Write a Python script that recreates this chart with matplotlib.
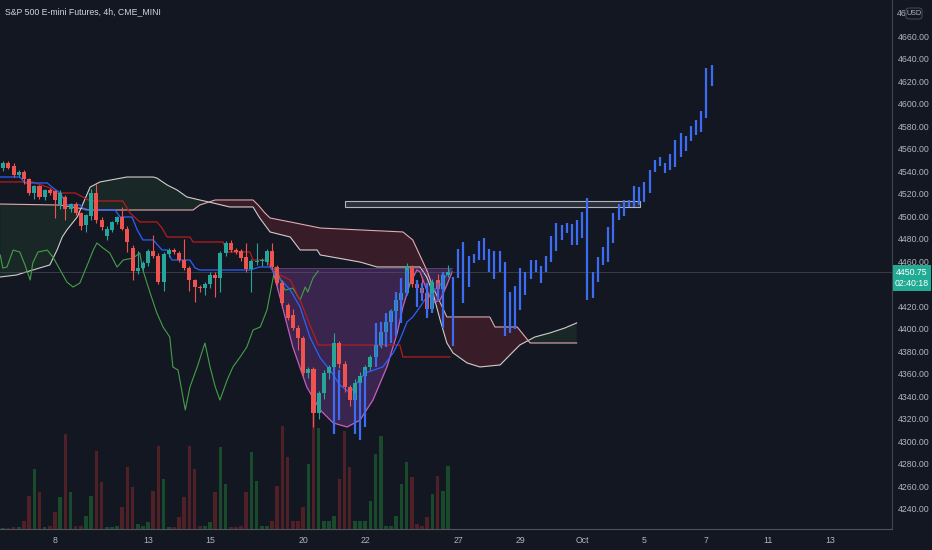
import numpy as np
import matplotlib
matplotlib.use('Agg')
import matplotlib.pyplot as plt
from matplotlib.patches import Rectangle, FancyBboxPatch

# ---- data ----
# 4h candles, index = bar number
opens  = [4543, 4547, 4545, 4537, 4539, 4533, 4521, 4527, 4517, 4523, 4522, 4510, 4517, 4506, 4511, 4503, 4492, 4500, 4521, 4497,
          4482, 4488, 4495, 4499, 4489, 4472, 4451, 4454, 4458, 4469, 4465, 4442, 4466, 4470, 4467, 4461, 4454, 4443, 4437, 4436,
          4440, 4448, 4445, 4467, 4476, 4470, 4469, 4464, 4453, 4459, 4460, 4459, 4469, 4455, 4441, 4421, 4412, 4401, 4392, 4361,
          4364, 4325, 4343, 4361, 4366, 4387, 4369, 4348, 4337, 4352, 4358, 4366, 4375, 4386, 4397, 4406, 4416, 4426, 4432, 4455,
          4440, 4436, 4432, 4418, 4443, 4435, 4448]
highs  = [4549, 4549, 4547, 4541, 4541, 4534, 4528, 4528, 4524, 4525, 4523, 4523, 4519, 4512, 4513, 4504, 4502, 4524, 4529, 4499,
          4491, 4496, 4500, 4508, 4491, 4474, 4469, 4460, 4471, 4483, 4467, 4468, 4472, 4472, 4469, 4480, 4456, 4444, 4439, 4442,
          4450, 4450, 4469, 4478, 4479, 4472, 4471, 4476, 4462, 4476, 4463, 4471, 4476, 4457, 4443, 4423, 4418, 4403, 4394, 4366,
          4366, 4345, 4363, 4368, 4396, 4389, 4371, 4350, 4355, 4362, 4368, 4377, 4389, 4399, 4408, 4418, 4429, 4436, 4458, 4457,
          4443, 4446, 4434, 4444, 4449, 4450, 4457]
lows   = [4540, 4542, 4535, 4535, 4529, 4519, 4515, 4515, 4514, 4519, 4498, 4506, 4497, 4504, 4501, 4488, 4486, 4497, 4494, 4488,
          4479, 4486, 4493, 4488, 4468, 4443, 4449, 4452, 4456, 4463, 4440, 4434, 4464, 4466, 4459, 4452, 4434, 4424, 4433, 4430,
          4436, 4428, 4433, 4465, 4468, 4466, 4460, 4450, 4433, 4457, 4456, 4457, 4453, 4439, 4420, 4408, 4399, 4381, 4358, 4356,
          4313, 4320, 4338, 4355, 4363, 4365, 4344, 4331, 4334, 4349, 4355, 4363, 4372, 4383, 4394, 4403, 4413, 4422, 4430, 4437,
          4433, 4428, 4412, 4415, 4433, 4430, 4446]
closes = [4547, 4543, 4537, 4539, 4533, 4521, 4527, 4517, 4523, 4521, 4514, 4521, 4506, 4511, 4503, 4491, 4501, 4521, 4497, 4490,
          4489, 4495, 4499, 4489, 4477, 4451, 4454, 4458, 4469, 4465, 4442, 4466, 4470, 4468, 4461, 4454, 4443, 4437, 4436, 4440,
          4448, 4445, 4467, 4476, 4470, 4468, 4463, 4453, 4460, 4460, 4461, 4469, 4455, 4441, 4423, 4410, 4401, 4392, 4361, 4364,
          4325, 4343, 4361, 4366, 4387, 4369, 4348, 4337, 4352, 4358, 4366, 4375, 4386, 4397, 4406, 4416, 4426, 4432, 4455, 4440,
          4436, 4432, 4418, 4442, 4435, 4448, 4450.75]
volumes = [4, 4, 7, 9, 33, 133, 240, 147, 7, 13, 67, 127, 380, 147, 13, 13, 53, 133, 313, 187,
           7, 7, 13, 87, 247, 167, 20, 13, 27, 153, 333, 200, 7, 7, 47, 127, 333, 240, 13, 13,
           27, 147, 327, 180, 7, 7, 13, 147, 307, 193, 13, 13, 33, 173, 412, 287, 33, 33, 87, 260,
           472, 404, 33, 33, 53, 200, 392, 247, 33, 33, 33, 113, 300, 373, 13, 13, 53, 180, 267, 207,
           20, 13, 47, 140, 213, 153, 252]

# projected "bars pattern" (blue), bar number / high / low
proj_idx = [64, 65, 68, 69, 70, 72, 73, 74, 75, 76, 77, 78, 80, 81, 82, 83, 84, 85, 87, 88,
            89, 90, 91, 92, 93, 94, 95, 96, 97, 98, 99, 100, 101, 102, 103, 104, 105, 106, 107, 108,
            109, 110, 111, 112, 113, 114, 115, 116, 117, 118, 119, 120, 121, 122, 123, 124, 125, 126, 127, 128,
            129, 130, 131, 132, 133, 134, 135, 136, 137]
proj_hi = [4366, 4363, 4343, 4353, 4363, 4405, 4406, 4414, 4417, 4433, 4445, 4452, 4443, 4441, 4441, 4432, 4441, 4450, 4446, 4471,
           4477, 4465, 4466, 4478, 4481, 4471, 4469, 4469, 4459, 4433, 4438, 4454, 4450, 4461, 4461, 4456, 4465, 4482, 4494, 4492,
           4494, 4493, 4497, 4504, 4516, 4450, 4464, 4473, 4490, 4503, 4511, 4514, 4514, 4527, 4526, 4530, 4541, 4550, 4553, 4547,
           4555, 4568, 4574, 4571, 4580, 4585, 4593, 4632, 4634]
proj_lo = [4307, 4319, 4307, 4301, 4313, 4366, 4384, 4384, 4387, 4394, 4405, 4430, 4419, 4425, 4410, 4414, 4425, 4401, 4385, 4445,
           4423, 4437, 4458, 4461, 4461, 4450, 4444, 4450, 4394, 4396, 4400, 4417, 4430, 4444, 4450, 4441, 4450, 4459, 4469, 4479,
           4485, 4474, 4474, 4481, 4426, 4427, 4442, 4457, 4459, 4476, 4497, 4500, 4508, 4508, 4510, 4513, 4521, 4539, 4545, 4538,
           4541, 4544, 4553, 4558, 4567, 4572, 4575, 4587, 4616]

# ichimoku lines (vertices: bar number, price)
tenkan_x = [-0.6, 3.2, 4.2, 8.5, 9.4, 11.0, 12.3, 14.8, 15.8, 21.6, 22.6, 24.9, 25.9, 27.0, 29.0, 30.7, 31.7, 32.6, 36.1, 37.1,
            38.0, 47.7, 49.6, 51.6, 52.6, 54.1, 55.5, 57.4, 59.3, 61.3, 63.2, 65.1, 67.1, 68.4, 70.0, 73.4, 75.4, 76.7, 78.1, 79.2,
            80.6, 81.9, 84.5, 86.4]
tenkan_y = [4534.8, 4534.8, 4529.5, 4529.5, 4525.9, 4520.6, 4510.0, 4510.0, 4505.5, 4505.5, 4499.3, 4499.3, 4487.8, 4478.9, 4478.9,
            4470.0, 4470.0, 4461.1, 4461.1, 4454.0, 4452.2, 4452.2, 4454.9, 4454.9, 4447.8, 4441.6, 4434.5, 4419.4, 4392.7, 4374.1,
            4363.4, 4350.1, 4343.0, 4351.9, 4360.8, 4366.1, 4378.5, 4390.1, 4406.1, 4410.5, 4419.4, 4428.3, 4438.9, 4452.2]
kijun_x = [-0.6, 5.7, 9.0, 10.4, 13.9, 16.8, 23.1, 24.5, 26.4, 29.7, 30.7, 31.7, 36.1, 36.7, 42.5, 43.3, 47.7, 48.3, 51.0, 51.6,
           53.5, 55.5, 57.4, 59.3, 60.9, 76.7, 77.3, 86.4]
kijun_y = [4530.4, 4530.4, 4525.1, 4520.6, 4520.6, 4513.5, 4513.5, 4502.9, 4494.9, 4494.9, 4489.5, 4481.5, 4481.5, 4477.1, 4477.1,
           4468.2, 4468.2, 4461.1, 4461.1, 4454.9, 4447.8, 4443.4, 4425.6, 4403.4, 4385.6, 4385.6, 4375.0, 4375.0]
chikou_x = [-0.6, -0.1, 0.7, 1.9, 3.2, 4.2, 5.2, 5.7, 6.7, 8.5, 9.6, 11.0, 12.3, 13.5, 14.8, 16.4, 17.4, 18.1, 19.3, 20.6,
            22.0, 23.2, 25.1, 26.4, 27.0, 28.4, 29.7, 30.9, 32.2, 32.8, 33.8, 35.2, 36.1, 37.5, 39.0, 40.0, 41.0, 41.9, 43.3, 44.4,
            45.8, 47.1, 48.3, 49.7, 51.0, 52.0, 52.6, 54.5, 56.0, 57.4, 58.4, 58.9, 59.9, 60.9]
chikou_y = [4465.5, 4454.0, 4454.8, 4469.9, 4468.2, 4456.6, 4443.3, 4458.4, 4468.2, 4469.9, 4463.7, 4452.2, 4441.5, 4437.1, 4440.6,
            4458.4, 4469.9, 4476.2, 4471.7, 4467.3, 4454.8, 4461.1, 4462.8, 4467.3, 4452.2, 4431.8, 4414.0, 4401.6, 4392.7, 4366.0,
            4363.4, 4327.9, 4348.3, 4366.0, 4387.4, 4366.0, 4348.3, 4336.7, 4354.5, 4366.0, 4374.9, 4383.8, 4398.9, 4401.6, 4416.7,
            4440.6, 4454.8, 4434.4, 4436.2, 4425.5, 4437.1, 4432.6, 4445.1, 4451.3]
spanA_x = [-0.6, 2.6, 3.8, 9.0, 10.4, 11.4, 12.3, 14.3, 16.8, 18.7, 23.9, 29.0, 29.7, 31.7, 33.6, 35.5, 38.0, 40.6, 43.8, 48.3,
           49.6, 51.6, 55.5, 57.4, 60.7, 61.3, 69.0, 72.3, 80.6, 81.9, 83.1, 84.5, 85.8, 87.0, 89.7, 92.2, 96.1, 98.0, 99.9, 102.8,
           105.7, 108.6, 110.9]
spanA_y = [4446.0, 4447.8, 4449.6, 4456.7, 4470.0, 4481.5, 4487.8, 4499.3, 4525.9, 4530.4, 4534.8, 4534.8, 4533.9, 4527.7, 4523.3,
           4517.1, 4514.4, 4511.7, 4508.2, 4508.2, 4498.4, 4486.0, 4481.5, 4470.0, 4470.0, 4465.6, 4459.3, 4454.9, 4454.9, 4446.0,
           4431.8, 4407.8, 4387.4, 4378.5, 4369.7, 4366.1, 4367.9, 4376.8, 4385.6, 4392.7, 4396.3, 4400.7, 4405.2]
spanB_x = [-0.6, 11.0, 16.8, 36.7, 38.0, 41.0, 48.3, 49.3, 50.6, 51.6, 55.5, 61.3, 69.0, 77.3, 79.2, 81.9, 83.1, 85.8, 94.1, 95.1,
           99.4, 101.9, 110.9]
spanB_y = [4510.8, 4509.9, 4505.5, 4505.5, 4509.9, 4514.4, 4514.4, 4509.9, 4502.9, 4498.4, 4494.9, 4489.5, 4487.8, 4486.0, 4478.9,
           4452.2, 4437.1, 4410.5, 4410.5, 4401.6, 4401.6, 4387.4, 4387.4]

# cup & handle drawing
cup_x = [52.0, 53.5, 56.0, 58.7, 61.3, 63.8, 66.5, 69.0, 71.5, 74.2, 76.2, 77.3, 78.7, 80.0, 80.6, 81.9, 83.1, 84.5, 85.8, 86.8]
cup_y = [4454.0, 4428.3, 4383.9, 4348.3, 4327.9, 4316.4, 4312.8, 4319.0, 4336.8, 4366.1, 4396.3, 4419.4, 4440.7, 4452.2,
         4450.5, 4434.5, 4422.9, 4425.6, 4438.9, 4450.5]
cup_top = 4454.0

# resistance box
box_x = [66.1, 123.2]
box_y = [4508.1, 4513.5]

last_price = 4450.75
countdown = '02:40:18'
price_ticks = list(range(4240, 4680, 20))
date_pos = [10, 28, 40, 58, 70, 88, 100, 112, 124, 136, 148, 160]
date_lab = ['8', '13', '15', '20', '22', '27', '29', 'Oct', '5', '7', '11', '13']
title = 'S&P 500 E-mini Futures, 4h, CME_MINI'

# ---- style ----
BG = '#131722'
UP, DN = '#26a69a', '#ef5350'
TXT = '#b2b5be'
LINE = '#434651'
plt.rcParams['font.family'] = ['Liberation Sans', 'DejaVu Sans']
FS = 6.3

W, H = 932, 550
rect = [0, 21 / H, 892 / W, 529 / H]
fig = plt.figure(figsize=(W / 100, H / 100), dpi=100, facecolor=BG)

# volume pane underneath
vax = fig.add_axes(rect, zorder=0)
vax.set_facecolor(BG)
n = len(opens)
idx = np.arange(n)
o, h, l, c = map(np.array, (opens, highs, lows, closes))
up = c >= o
vcol = np.where(up, '#184a2b', '#4f2127')
vax.bar(idx, volumes, width=0.7, color=vcol, linewidth=0)
vax.set_ylim(0, 529 * 4)
vax.set_xlim(-0.64, 171.9)
vax.axis('off')

ax = fig.add_axes(rect, zorder=1, sharex=vax)
ax.patch.set_alpha(0)
ax.set_xlim(-0.64, 171.9)
ax.set_ylim(4222.2, 4692.0)

# cloud
grid = np.union1d(spanA_x, spanB_x)
a = np.interp(grid, spanA_x, spanA_y)
b = np.interp(grid, spanB_x, spanB_y)
green = (a >= b) | (grid < 17)
ax.fill_between(grid, a, b, where=green, interpolate=True, color='#43a047', alpha=0.13, lw=0)
ax.fill_between(grid, a, b, where=~green, interpolate=True, color='#f23645', alpha=0.17, lw=0)
ax.plot(spanA_x, spanA_y, color='#d2cccc', lw=0.8)
ax.plot(spanB_x, spanB_y, color='#e3aab2', lw=0.8)

# cup fill
ax.fill_between(cup_x, cup_y, cup_top, color='#8e44ad', alpha=0.32, lw=0)
ax.plot(cup_x, cup_y, color='#c45ec0', lw=0.9)
ax.plot([cup_x[0], cup_x[-1]], [cup_top, cup_top], color='#8e5fa8', lw=0.6, alpha=0.6)

# last price line
ax.axhline(last_price, color='#5d606b', lw=0.5, alpha=0.7)

# ichimoku lines
ax.plot(chikou_x, chikou_y, color='#43a047', lw=0.8)
ax.plot(kijun_x, kijun_y, color='#b71c1c', lw=0.9)
ax.plot(tenkan_x, tenkan_y, color='#2962ff', lw=0.9)

# box
ax.add_patch(Rectangle((box_x[0], box_y[0]), box_x[1] - box_x[0], box_y[1] - box_y[0],
                       facecolor='#787b86', alpha=0.25, edgecolor='none'))
ax.add_patch(Rectangle((box_x[0], box_y[0]), box_x[1] - box_x[0], box_y[1] - box_y[0],
                       facecolor='none', edgecolor='#b2b5be', lw=0.8))

# candles
col = np.where(up, UP, DN)
ax.vlines(idx, l, h, color=col, lw=0.8, zorder=3)
body = np.maximum(np.abs(c - o), 0.8)
ax.bar(idx, body, bottom=np.minimum(o, c), width=0.78, color=col, linewidth=0, zorder=4)

# projected bars
ax.vlines(proj_idx, proj_lo, proj_hi, color='#3b6cf2', lw=1.6, zorder=5)

# axes styling
for s in ('top', 'left'):
    ax.spines[s].set_visible(False)
ax.spines['right'].set_color(LINE)
ax.spines['bottom'].set_color('#50535e')
ax.yaxis.tick_right()
ax.set_yticks(price_ticks)
# 4440 sits under the live price tag
ax.set_yticklabels(['' if p == 4440 else f'{p:.2f}' for p in price_ticks])
ax.set_xticks(date_pos)
ax.set_xticklabels(date_lab)
ax.tick_params(axis='y', length=0, pad=4, labelsize=FS, colors=TXT)
ax.tick_params(axis='x', length=0, pad=5, labelsize=FS, colors=TXT)

fig.text(5 / W, 1 - 12 / H, title, color='#d1d4dc', fontsize=FS, va='center', ha='left')

# current price tag
fig.add_artist(Rectangle((893 / W, 1 - 291 / H), 38 / W, 26 / H, transform=fig.transFigure,
                         facecolor='#22ab94', edgecolor='none', zorder=10))
fig.text(912 / W, 1 - 272 / H, f'{last_price:.2f}', color='white', fontsize=FS, ha='center', va='center', zorder=11)
fig.text(912 / W, 1 - 284 / H, countdown, color='white', fontsize=FS, ha='center', va='center', zorder=11)

# currency badge, the 4680 label peeks out left of it
fig.text(897 / W, 1 - 14 / H, '46', color=TXT, fontsize=FS, ha='left', va='center')
fig.add_artist(FancyBboxPatch((906 / W, 1 - 19 / H), 16 / W, 11 / H, boxstyle='round,pad=0,rounding_size=0.004',
                              transform=fig.transFigure, facecolor=BG, edgecolor='#50535e', lw=0.6, zorder=10))
fig.text(914 / W, 1 - 13.5 / H, 'USD', color=TXT, fontsize=5.2, ha='center', va='center', zorder=11)

fig.savefig('out.png', dpi=100, facecolor=BG)
